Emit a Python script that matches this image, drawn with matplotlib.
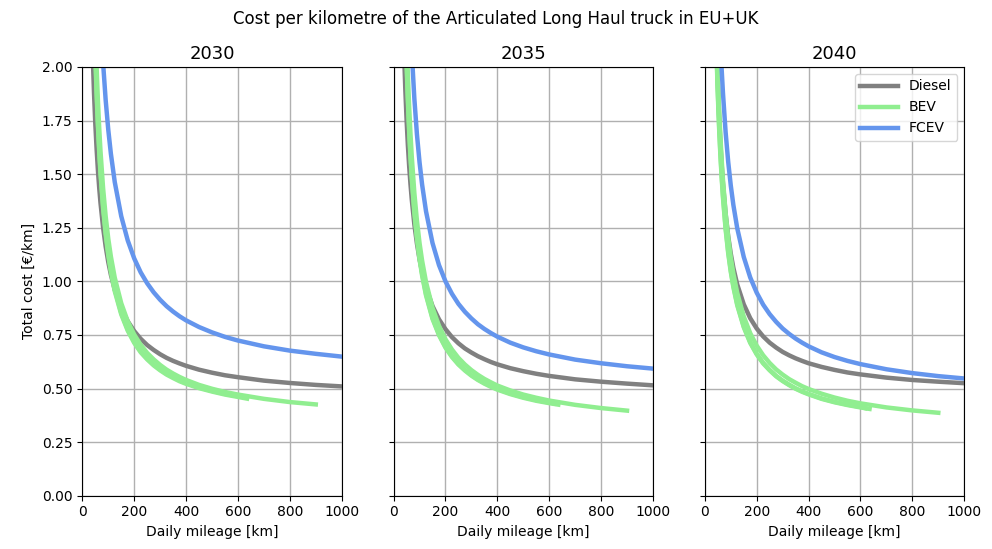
import matplotlib
matplotlib.use("Agg")
import matplotlib.pyplot as plt

# daily mileage grid [km] the curves were read on
km = [40, 45, 50, 55, 60, 65, 70, 80, 90, 100, 110, 125, 150, 175, 200, 225, 250,
      275, 300, 325, 350, 375, 400, 450, 500, 550, 600, 700, 800, 900, 1000]

years = ["2030", "2035", "2040"]

# cost per km [EUR/km]
diesel_2030 = [2.058, 1.878, 1.735, 1.618, 1.52, 1.437, 1.366, 1.251, 1.162, 1.09, 1.031, 0.961, 0.875, 0.814,
               0.768, 0.732, 0.703, 0.68, 0.66, 0.643, 0.629, 0.617, 0.606, 0.588, 0.574, 0.562, 0.553, 0.537,
               0.526, 0.517, 0.51]
diesel_2035 = [2.083, 1.901, 1.756, 1.637, 1.538, 1.455, 1.383, 1.266, 1.176, 1.103, 1.044, 0.972, 0.885, 0.823,
               0.777, 0.74, 0.711, 0.687, 0.668, 0.651, 0.637, 0.624, 0.613, 0.595, 0.581, 0.569, 0.559, 0.543,
               0.532, 0.523, 0.515]
diesel_2040 = [2.377, 2.123, 1.928, 1.772, 1.646, 1.542, 1.455, 1.316, 1.211, 1.129, 1.063, 0.985, 0.893, 0.828,
               0.78, 0.743, 0.714, 0.691, 0.671, 0.655, 0.641, 0.629, 0.618, 0.601, 0.587, 0.575, 0.566, 0.551,
               0.54, 0.532, 0.525]

fcev_2030 = [3.697, 3.307, 3.002, 2.757, 2.557, 2.389, 2.247, 2.019, 1.845, 1.707, 1.596, 1.463, 1.304, 1.191,
             1.107, 1.042, 0.991, 0.949, 0.914, 0.884, 0.859, 0.837, 0.818, 0.787, 0.762, 0.741, 0.724, 0.697,
             0.677, 0.662, 0.649]
fcev_2035 = [3.534, 3.133, 2.823, 2.577, 2.377, 2.212, 2.073, 1.853, 1.686, 1.556, 1.451, 1.327, 1.179, 1.076,
             1.0, 0.942, 0.895, 0.858, 0.827, 0.8, 0.778, 0.759, 0.742, 0.714, 0.692, 0.674, 0.659, 0.635,
             0.618, 0.604, 0.593]
fcev_2040 = [2.947, 2.669, 2.447, 2.265, 2.114, 1.985, 1.876, 1.697, 1.558, 1.447, 1.356, 1.247, 1.114, 1.018,
             0.947, 0.891, 0.847, 0.811, 0.78, 0.755, 0.733, 0.714, 0.697, 0.669, 0.647, 0.629, 0.614, 0.59,
             0.572, 0.558, 0.547]

# BEV: three variants per year, each stops at its maximum daily range
bev_range = [620, 635, 900]
bev_2030 = [
    [2.611, 2.31, 2.078, 1.895, 1.745, 1.622, 1.518, 1.354, 1.23, 1.132, 1.054, 0.962, 0.852, 0.775,
     0.718, 0.674, 0.64, 0.612, 0.589, 0.569, 0.553, 0.538, 0.526, 0.505, 0.489, 0.475, 0.464, 0.46],
    [2.58, 2.285, 2.056, 1.875, 1.727, 1.606, 1.503, 1.341, 1.219, 1.122, 1.045, 0.954, 0.846, 0.77,
     0.713, 0.669, 0.636, 0.608, 0.585, 0.565, 0.549, 0.534, 0.522, 0.502, 0.486, 0.472, 0.461, 0.453],
    [2.732, 2.427, 2.19, 2.0, 1.845, 1.717, 1.608, 1.435, 1.303, 1.199, 1.116, 1.017, 0.898, 0.814,
     0.752, 0.704, 0.666, 0.636, 0.61, 0.588, 0.57, 0.554, 0.54, 0.517, 0.499, 0.484, 0.472, 0.452,
     0.437, 0.426],
]
bev_2035 = [
    [2.549, 2.262, 2.039, 1.861, 1.716, 1.595, 1.494, 1.332, 1.209, 1.112, 1.034, 0.941, 0.83, 0.753,
     0.695, 0.651, 0.615, 0.587, 0.563, 0.543, 0.526, 0.511, 0.498, 0.477, 0.46, 0.446, 0.435, 0.43],
    [2.52, 2.24, 2.02, 1.845, 1.7, 1.582, 1.482, 1.322, 1.2, 1.104, 1.027, 0.935, 0.825, 0.749,
     0.691, 0.647, 0.612, 0.584, 0.56, 0.54, 0.523, 0.508, 0.495, 0.474, 0.457, 0.443, 0.432, 0.425],
    [2.671, 2.378, 2.15, 1.966, 1.816, 1.69, 1.584, 1.413, 1.283, 1.179, 1.096, 0.997, 0.877, 0.793,
     0.73, 0.682, 0.643, 0.612, 0.586, 0.564, 0.545, 0.529, 0.514, 0.491, 0.472, 0.457, 0.444, 0.424,
     0.409, 0.397],
]
bev_2040 = [
    [2.335, 2.084, 1.888, 1.73, 1.6, 1.492, 1.4, 1.253, 1.14, 1.051, 0.979, 0.893, 0.79, 0.716,
     0.662, 0.62, 0.587, 0.559, 0.537, 0.518, 0.501, 0.487, 0.475, 0.454, 0.438, 0.425, 0.414, 0.408],
    [2.31, 2.063, 1.87, 1.714, 1.586, 1.48, 1.389, 1.244, 1.132, 1.044, 0.973, 0.888, 0.786, 0.713,
     0.659, 0.617, 0.585, 0.557, 0.535, 0.516, 0.499, 0.485, 0.473, 0.452, 0.436, 0.423, 0.412, 0.405],
    [2.405, 2.159, 1.964, 1.806, 1.676, 1.566, 1.472, 1.321, 1.205, 1.112, 1.036, 0.946, 0.836, 0.758,
     0.7, 0.655, 0.619, 0.589, 0.565, 0.544, 0.527, 0.511, 0.498, 0.476, 0.458, 0.443, 0.431, 0.412,
     0.398, 0.387],
]

diesel = [diesel_2030, diesel_2035, diesel_2040]
fcev = [fcev_2030, fcev_2035, fcev_2040]
bev = [bev_2030, bev_2035, bev_2040]


def bev_km(max_range):
    pts = [k for k in km if k < max_range]
    if max_range not in pts:
        pts.append(max_range)
    return pts


fig, axes = plt.subplots(1, 3, sharey=True, figsize=(9.92, 5.49), dpi=100)
fig.subplots_adjust(left=0.083, right=0.972, bottom=0.097, top=0.878, wspace=0.2)

for i, ax in enumerate(axes):
    ax.plot(km, diesel[i], color="grey", lw=3.2, label="Diesel")
    for j, vals in enumerate(bev[i]):
        ax.plot(bev_km(bev_range[j]), vals, color="lightgreen", lw=3.2,
                label="BEV" if j == 0 else None)
    ax.plot(km, fcev[i], color="cornflowerblue", lw=3.2, label="FCEV")
    ax.set_xlim(0, 1000)
    ax.set_ylim(0, 2)
    ax.set_xticks([0, 200, 400, 600, 800, 1000])
    ax.set_yticks([0, 0.25, 0.5, 0.75, 1.0, 1.25, 1.5, 1.75, 2.0])
    ax.grid(True, color="#b0b0b0", lw=1)
    ax.set_axisbelow(True)
    ax.set_title(years[i], fontsize=13)
    ax.set_xlabel("Daily mileage [km]", fontsize=10)
    ax.tick_params(labelsize=10)

axes[0].set_ylabel("Total cost [€/km]", fontsize=10)
axes[2].legend(loc="upper right", fontsize=10, handlelength=2.7)
fig.suptitle("Cost per kilometre of the Articulated Long Haul truck in EU+UK", fontsize=12, y=0.982)

plt.savefig("out.png", dpi=100)
